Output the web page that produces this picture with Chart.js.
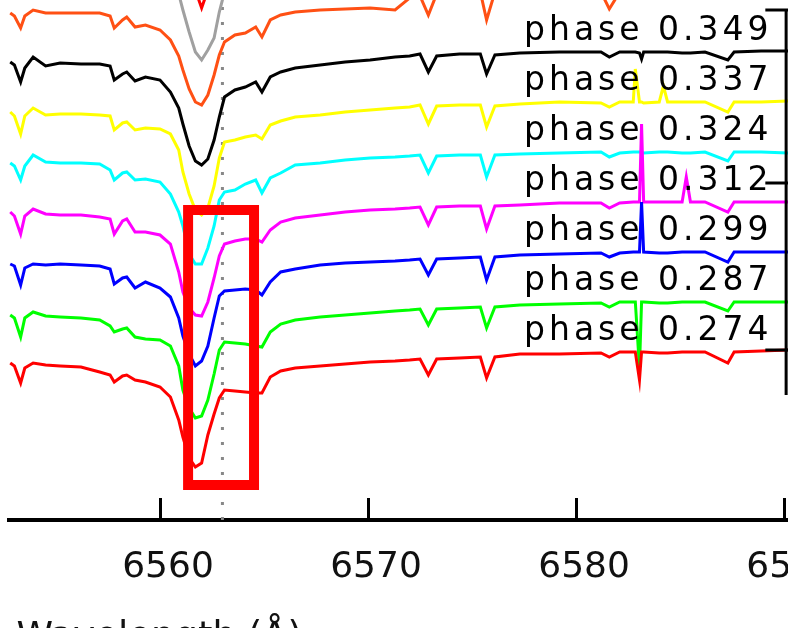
<!DOCTYPE html>
<html>
<head>
<meta charset="utf-8">
<script src="https://cdn.jsdelivr.net/npm/chart.js@4.4.1/dist/chart.umd.min.js"></script>
<style>
  html, body { margin:0; padding:0; overflow:hidden; background:#fff; }
  #wrap { position:relative; width:800px; height:670px; }
</style>
</head>
<body>
<div id="wrap"><canvas id="spec"></canvas></div>
<script>
// wavelength grid (Angstrom), shared by all spectra
const wavelength = [6552.8,6553.0,6553.3,6553.5,6553.9,6554.5,6555.2,6556.2,6557.1,6557.6,
  6557.8,6558.2,6558.4,6558.8,6559.3,6560.0,6560.5,6560.9,6561.1,6561.4,
  6561.7,6562.0,6562.3,6562.6,6562.85,6563.1,6563.6,6564.1,6564.6,6564.9,
  6565.3,6565.8,6566.5,6567.7,6568.9,6570.1,6571.3,6572.0,6572.5,6572.9,
  6573.3,6574.4,6575.4,6575.7,6576.1,6577.3,6579.2,6581.2,6581.6,6582.1,
  6582.75,6582.85,6583.05,6583.15,6583.25,6584.0,6584.2,6584.4,6585.1,6585.3,
  6585.5,6586.2,6587.3,6587.6,6588.9,6590.2];

// normalised flux, bottom spectrum first
const fluxRed = [0.945,0.93,0.845,0.92,0.945,0.935,0.93,0.925,0.90,0.885,
  0.85,0.88,0.885,0.86,0.85,0.825,0.775,0.66,0.575,0.47,
  0.425,0.445,0.585,0.69,0.77,0.81,0.805,0.80,0.795,0.795,
  0.875,0.905,0.92,0.93,0.94,0.95,0.955,0.96,0.965,0.885,
  0.965,0.97,0.975,0.87,0.975,0.99,0.99,0.995,0.975,1.0,
  1.0,1.0,0.86,1.0,1.0,0.995,0.995,0.995,1.0,1.0,
  1.0,1.0,0.945,1.0,1.005,1.01];
const fluxGreen = [0.935,0.92,0.825,0.92,0.95,0.93,0.925,0.92,0.91,0.88,
  0.85,0.865,0.87,0.825,0.815,0.81,0.78,0.68,0.56,0.47,
  0.42,0.43,0.51,0.64,0.76,0.80,0.795,0.79,0.78,0.775,
  0.85,0.89,0.91,0.925,0.935,0.945,0.955,0.96,0.965,0.885,
  0.965,0.97,0.975,0.87,0.975,0.985,0.99,0.995,0.975,1.0,
  1.0,1.0,0.67,1.0,1.0,0.995,0.995,0.995,1.0,1.0,
  1.0,1.0,0.955,1.0,1.0,1.0];
const fluxBlue = [0.94,0.93,0.835,0.92,0.94,0.935,0.94,0.935,0.93,0.915,
  0.84,0.87,0.875,0.82,0.85,0.82,0.775,0.67,0.58,0.49,
  0.43,0.455,0.53,0.67,0.78,0.805,0.81,0.815,0.81,0.785,
  0.85,0.90,0.915,0.935,0.945,0.95,0.955,0.96,0.965,0.885,
  0.965,0.97,0.975,0.86,0.975,0.985,0.99,0.995,0.975,0.995,
  1.0,1.0,1.0,1.25,1.0,0.995,0.995,0.995,1.0,1.0,
  1.0,1.0,0.95,1.0,1.0,1.0];
const fluxMagenta = [0.95,0.93,0.84,0.93,0.965,0.94,0.935,0.935,0.925,0.915,
  0.84,0.905,0.915,0.85,0.85,0.835,0.79,0.65,0.55,0.47,
  0.435,0.43,0.50,0.62,0.73,0.79,0.805,0.815,0.815,0.80,
  0.86,0.90,0.92,0.935,0.95,0.96,0.965,0.97,0.975,0.885,
  0.975,0.98,0.98,0.865,0.98,0.985,0.995,0.995,0.97,0.995,
  1.0,1.0,1.0,1.39,1.0,1.0,1.0,1.0,1.0,1.125,
  1.0,1.0,0.95,1.0,1.0,1.0];
const fluxCyan = [0.945,0.93,0.86,0.93,0.985,0.95,0.945,0.945,0.94,0.91,
  0.86,0.895,0.90,0.86,0.865,0.85,0.79,0.70,0.63,0.49,
  0.44,0.44,0.52,0.63,0.76,0.80,0.81,0.84,0.86,0.795,
  0.87,0.895,0.935,0.945,0.96,0.97,0.975,0.98,0.985,0.895,
  0.98,0.985,0.985,0.875,0.985,0.99,0.995,1.0,0.975,0.995,
  1.0,1.0,1.0,1.0,0.995,1.0,1.0,1.0,0.995,0.995,
  0.995,1.0,0.955,1.0,1.0,0.995];
const fluxYellow = [0.95,0.93,0.84,0.93,0.97,0.935,0.94,0.94,0.935,0.93,
  0.86,0.895,0.90,0.86,0.87,0.865,0.84,0.76,0.65,0.54,
  0.46,0.435,0.47,0.58,0.72,0.80,0.81,0.825,0.835,0.815,
  0.885,0.905,0.925,0.935,0.95,0.96,0.97,0.975,0.985,0.89,
  0.98,0.985,0.985,0.875,0.98,0.99,1.0,0.995,0.975,1.0,
  1.0,1.165,1.0,1.0,0.995,1.0,1.08,1.0,1.0,1.0,
  1.0,1.0,0.95,1.0,1.0,1.005];
const fluxBlack = [0.95,0.935,0.85,0.92,0.975,0.93,0.945,0.94,0.94,0.93,
  0.86,0.89,0.90,0.855,0.875,0.86,0.80,0.72,0.64,0.53,
  0.455,0.435,0.465,0.56,0.675,0.775,0.81,0.825,0.85,0.80,
  0.875,0.90,0.92,0.935,0.95,0.96,0.975,0.98,0.99,0.90,
  0.98,0.99,0.99,0.89,0.985,0.995,1.0,1.0,0.975,1.0,
  1.0,1.0,0.995,0.965,1.0,1.0,1.0,1.0,0.995,0.995,
  0.995,1.0,0.96,1.0,1.005,1.005];
const fluxOrange = [0.945,0.93,0.87,0.93,0.96,0.945,0.945,0.945,0.945,0.93,
  0.87,0.91,0.925,0.875,0.885,0.86,0.81,0.73,0.66,0.565,
  0.50,0.485,0.535,0.635,0.735,0.80,0.835,0.845,0.875,0.825,
  0.91,0.935,0.95,0.96,0.965,0.97,0.96,1.02,1.03,0.935,
  1.04,1.05,1.05,0.91,1.05,1.05,1.05,1.05,0.965,1.05,
  1.05,1.05,1.05,1.05,1.05,1.05,1.05,1.05,1.05,1.05,
  1.05,1.05,1.03,1.05,1.05,1.05];
const fluxGray = [0.95,0.935,0.85,0.92,0.975,0.93,0.945,0.94,0.94,0.93,
  0.86,0.89,0.90,0.855,0.875,0.86,0.82,0.79,0.71,0.60,
  0.50,0.46,0.51,0.57,0.70,0.80,0.81,0.825,0.85,0.80,
  0.875,0.90,0.92,0.935,0.95,0.96,0.975,0.98,0.99,0.90,
  0.98,0.99,0.99,0.89,0.985,0.995,1.0,1.0,0.975,1.0,
  1.0,1.0,1.0,1.0,1.0,1.0,1.0,1.0,1.0,1.0,
  1.0,1.0,0.96,1.0,1.005,1.005];
const fluxRedTop = [0.95,0.935,0.85,0.92,0.975,0.93,0.945,0.94,0.94,0.93,
  0.86,0.89,0.90,0.855,0.875,0.86,0.82,0.78,0.70,0.60,
  0.56,0.47,0.56,0.65,0.72,0.80,0.81,0.825,0.85,0.80,
  0.875,0.90,0.92,0.935,0.95,0.96,0.975,0.98,0.99,0.90,
  0.98,0.99,0.99,0.89,0.985,0.995,1.0,1.0,0.975,1.0,
  1.0,1.0,1.0,1.0,1.0,1.0,1.0,1.0,1.0,1.0,
  1.0,1.0,0.96,1.0,1.005,1.005];

const spectra = [fluxRed, fluxGreen, fluxBlue, fluxMagenta, fluxCyan, fluxYellow, fluxBlack, fluxOrange, fluxGray, fluxRedTop];
const offsets = [0, 0.25, 0.5, 0.75, 1.0, 1.25, 1.5, 1.75, 2.0, 2.25];
const colors = ['#ff0000','#00ff00','#0000ff','#ff00ff','#00ffff','#ffff00','#000000','#ff5014','#a0a0a0','#ff0000'];
const phases = ['0.274','0.287','0.299','0.312','0.324','0.337','0.349'];

// H-alpha rest line, highlight box, tick values
const restLambda = 6563.0;
const boxLambda = [6561.35, 6564.52];
const boxFlux = [0.335, 1.71];
const xTicks = [6560, 6570, 6580, 6590];
// edge of the neighbouring panel (cut off at the right)
const edgeLambda = [6589.1, 6590.1];
const edgeFlux = [2.71, 1.845, 1.01, 0.785];

const yMin = 0.16, yMax = 2.76;

const datasets = [];
spectra.forEach((f, i) => {
  datasets.push({
    data: wavelength.map((w, j) => ({ x: w, y: f[j] + offsets[i] })),
    borderColor: colors[i], borderWidth: 3, pointRadius: 0, tension: 0, order: 5 + i
  });
});
datasets.push({
  data: [{ x: restLambda, y: yMin }, { x: restLambda, y: yMax }],
  borderColor: '#888', borderWidth: 3, borderDash: [3, 12], pointRadius: 0, order: 30
});
datasets.push({
  data: [
    { x: (boxLambda[0] + boxLambda[1]) / 2, y: boxFlux[1] }, { x: boxLambda[1], y: boxFlux[1] },
    { x: boxLambda[1], y: boxFlux[0] }, { x: boxLambda[0], y: boxFlux[0] },
    { x: boxLambda[0], y: boxFlux[1] }, { x: (boxLambda[0] + boxLambda[1]) / 2, y: boxFlux[1] }
  ],
  borderColor: '#ff0000', borderWidth: 10, borderJoinStyle: 'miter', pointRadius: 0, order: 0
});
datasets.push({
  data: [{ x: edgeLambda[1], y: edgeFlux[0] }, { x: edgeLambda[1], y: edgeFlux[3] }],
  borderColor: '#000', borderWidth: 3, pointRadius: 0, order: 1
});
edgeFlux.slice(0, 3).forEach(v => {
  datasets.push({
    data: [{ x: edgeLambda[0], y: v }, { x: edgeLambda[1] + 0.2, y: v }],
    borderColor: '#000', borderWidth: 3, pointRadius: 0, order: 1
  });
});

// phase labels sit just above each spectrum, at the right
const phaseLabels = {
  id: 'phaseLabels',
  afterDatasetsDraw(chart) {
    const { ctx, scales: { x, y } } = chart;
    ctx.save();
    ctx.font = '33px "DejaVu Sans"';
    try { ctx.letterSpacing = '4px'; } catch (e) {}
    ctx.fillStyle = '#000';
    ctx.textAlign = 'left';
    ctx.textBaseline = 'alphabetic';
    phases.forEach((p, i) => {
      ctx.fillText('phase ' + p, x.getPixelForValue(6577.5), y.getPixelForValue(offsets[i] + 1.06));
    });
    ctx.restore();
  }
};

new Chart(document.getElementById('spec'), {
  type: 'line',
  data: { datasets },
  plugins: [phaseLabels],
  options: {
    responsive: true, maintainAspectRatio: false, animation: false,
    layout: { padding: { left: 9, right: 12, top: 0, bottom: 0 } },
    plugins: { legend: { display: false }, tooltip: { enabled: false } },
    scales: {
      x: {
        type: 'linear', min: 6552.74, max: 6590.19,
        afterFit(s) { s.paddingLeft = 0; s.paddingRight = 0; s.height = 150; },
        afterBuildTicks(s) { s.ticks = xTicks.map(v => ({ value: v })); },
        ticks: { color: '#111', font: { family: 'DejaVu Sans', size: 36 }, padding: 48, labelOffset: 8, maxRotation: 0, autoSkip: false, callback: v => String(v) },
        grid: { drawOnChartArea: false, drawTicks: true, tickLength: -22, tickWidth: 3, tickColor: '#000' },
        border: { display: true, color: '#000', width: 4 },
        title: { display: true, text: '\u2009Wavelength (Å)', align: 'start', color: '#111', font: { family: 'DejaVu Sans', size: 37 }, padding: { top: 0, bottom: 9 } }
      },
      y: { type: 'linear', display: false, min: yMin, max: yMax }
    }
  }
});
</script>
</body>
</html>
